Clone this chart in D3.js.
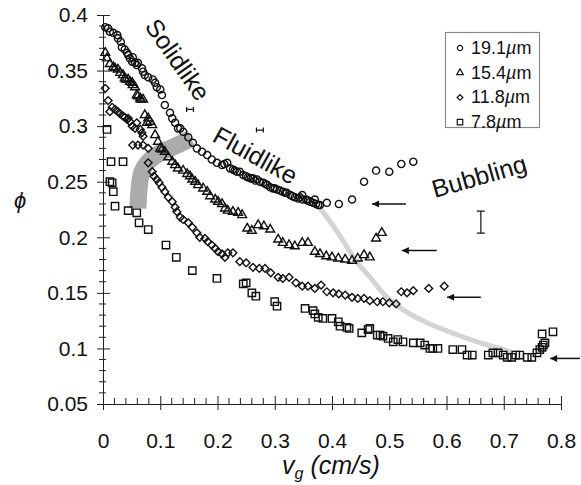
<!DOCTYPE html>
<html>
<head>
<meta charset="utf-8">
<script src="https://cdn.jsdelivr.net/npm/d3@7"></script>
<style>
  body { margin: 0; background: #fff; }
  svg { font-family: "Liberation Sans", Arial, sans-serif; }
</style>
</head>
<body>
<div id="chart"></div>
<script>
// legend labels (particle diameter)
var seriesNames = ["19.1", "15.4", "11.8", "7.8"];

// [vg (cm/s), phi]
var d191 = [[0.004,0.389],[0.009,0.388],[0.012,0.385],[0.018,0.384],[0.025,0.382],[0.026,0.379],[0.031,0.376],[0.033,0.371],
  [0.038,0.369],[0.042,0.366],[0.044,0.364],[0.047,0.361],[0.052,0.362],[0.051,0.358],[0.056,0.357],[0.061,0.357],[0.059,0.355],
  [0.068,0.352],[0.070,0.349],[0.073,0.346],[0.079,0.344],[0.087,0.342],[0.091,0.339],[0.094,0.335],[0.100,0.333],[0.103,0.328],
  [0.108,0.319],[0.117,0.312],[0.121,0.307],[0.126,0.303],[0.131,0.298],[0.135,0.298],[0.140,0.295],[0.149,0.290],[0.157,0.285],
  [0.164,0.280],[0.173,0.277],[0.182,0.274],[0.190,0.270],[0.199,0.267],[0.208,0.265],[0.212,0.266],[0.217,0.267],[0.222,0.262],
  [0.227,0.261],[0.230,0.260],[0.234,0.259],[0.239,0.259],[0.245,0.256],[0.250,0.255],[0.253,0.254],[0.258,0.253],[0.262,0.253],
  [0.266,0.251],[0.269,0.252],[0.274,0.250],[0.280,0.249],[0.284,0.248],[0.287,0.247],[0.292,0.245],[0.297,0.244],[0.300,0.244],
  [0.304,0.243],[0.309,0.242],[0.314,0.241],[0.318,0.240],[0.321,0.240],[0.327,0.238],[0.331,0.237],[0.335,0.236],[0.341,0.235],
  [0.344,0.236],[0.348,0.238],[0.349,0.234],[0.355,0.234],[0.358,0.233],[0.362,0.232],[0.367,0.231],[0.370,0.234],[0.372,0.230],
  [0.376,0.229],[0.379,0.229],
  [0.391,0.231],[0.412,0.230],[0.435,0.234],[0.456,0.250],[0.477,0.260],[0.500,0.259],[0.521,0.266],[0.542,0.268]];

var d154 = [[0.004,0.366],[0.007,0.361],[0.012,0.356],[0.018,0.353],[0.021,0.352],[0.026,0.351],[0.030,0.348],[0.035,0.346],
  [0.038,0.343],[0.040,0.342],[0.044,0.342],[0.047,0.340],[0.051,0.339],[0.052,0.337],[0.056,0.335],[0.059,0.328],[0.061,0.327],
  [0.065,0.325],[0.066,0.324],[0.070,0.324],[0.073,0.310],[0.079,0.307],[0.077,0.303],[0.082,0.304],[0.086,0.301],[0.091,0.292],
  [0.096,0.286],[0.100,0.280],[0.103,0.279],[0.108,0.277],[0.114,0.272],[0.121,0.268],[0.126,0.265],[0.131,0.262],[0.140,0.260],
  [0.147,0.257],[0.152,0.255],[0.156,0.252],[0.161,0.250],[0.166,0.247],[0.175,0.244],[0.182,0.241],[0.187,0.237],[0.196,0.234],
  [0.201,0.232],[0.208,0.230],[0.213,0.226],[0.218,0.224],[0.227,0.223],[0.236,0.222],[0.243,0.220],[0.252,0.208],[0.260,0.206],
  [0.271,0.211],[0.281,0.210],[0.292,0.207],[0.306,0.198],[0.314,0.195],[0.325,0.193],[0.335,0.192],[0.348,0.195],[0.358,0.195],
  [0.370,0.187],[0.379,0.185],[0.390,0.183],[0.400,0.182],[0.411,0.181],[0.423,0.180],[0.435,0.179],[0.445,0.181],[0.456,0.184],
  [0.466,0.182],[0.477,0.199],[0.487,0.204]];

var d118 = [[0.004,0.334],[0.009,0.323],[0.016,0.317],[0.012,0.313],[0.021,0.315],[0.026,0.313],[0.030,0.311],[0.035,0.309],
  [0.038,0.308],[0.044,0.307],[0.042,0.306],[0.047,0.304],[0.051,0.300],[0.056,0.298],[0.059,0.303],[0.065,0.297],[0.068,0.294],
  [0.070,0.291],[0.052,0.283],[0.061,0.283],[0.070,0.283],[0.079,0.280],[0.079,0.267],[0.086,0.259],[0.089,0.255],[0.094,0.252],
  [0.098,0.249],[0.103,0.245],[0.108,0.241],[0.114,0.236],[0.121,0.232],[0.126,0.227],[0.129,0.223],[0.135,0.218],[0.140,0.216],
  [0.149,0.213],[0.156,0.209],[0.164,0.204],[0.169,0.200],[0.178,0.199],[0.183,0.196],[0.190,0.193],[0.196,0.190],[0.201,0.187],
  [0.208,0.185],[0.213,0.182],[0.218,0.186],[0.227,0.186],[0.239,0.178],[0.250,0.177],[0.262,0.173],[0.273,0.172],[0.283,0.172],
  [0.293,0.168],[0.306,0.164],[0.314,0.163],[0.325,0.164],[0.337,0.159],[0.348,0.156],[0.358,0.156],[0.370,0.154],[0.381,0.157],
  [0.391,0.151],[0.402,0.150],[0.412,0.149],[0.423,0.148],[0.435,0.146],[0.445,0.145],[0.456,0.145],[0.466,0.143],[0.479,0.142],
  [0.489,0.142],[0.500,0.141],[0.512,0.140],
  [0.521,0.151],[0.531,0.150],[0.542,0.152],[0.569,0.154],[0.596,0.156]];

var d78 = [[0.007,0.297],[0.014,0.268],[0.035,0.268],[0.012,0.250],[0.016,0.249],[0.018,0.241],[0.021,0.228],[0.044,0.224],
  [0.059,0.222],[0.063,0.213],[0.079,0.207],[0.110,0.193],[0.128,0.182],[0.156,0.170],[0.199,0.163],[0.245,0.158],[0.250,0.159],
  [0.260,0.150],[0.267,0.147],[0.300,0.142],[0.304,0.138],[0.353,0.136],[0.367,0.134],[0.370,0.131],[0.376,0.128],[0.384,0.127],
  [0.400,0.127],[0.411,0.124],[0.414,0.120],[0.426,0.119],[0.430,0.118],[0.452,0.114],[0.463,0.117],[0.466,0.118],[0.479,0.112],
  [0.484,0.112],[0.489,0.111],[0.498,0.109],[0.507,0.106],[0.515,0.108],[0.524,0.106],[0.542,0.105],[0.554,0.105],[0.562,0.103],
  [0.571,0.100],[0.576,0.100],[0.585,0.100],[0.611,0.099],[0.627,0.099],[0.636,0.094],[0.645,0.094],[0.673,0.094],[0.681,0.096],
  [0.690,0.096],[0.699,0.094],[0.706,0.092],[0.714,0.092],[0.721,0.094],[0.728,0.094],[0.741,0.092],[0.749,0.092],[0.758,0.096],
  [0.763,0.099],[0.767,0.101],[0.769,0.103],[0.772,0.105],[0.767,0.113],[0.786,0.115]];

// regime boundaries
var solidFluid = [[0.061,0.226],[0.063,0.243],[0.068,0.259],[0.079,0.268],[0.100,0.276],[0.126,0.282],[0.154,0.289]];
var fluidBubble = [[0.376,0.228],[0.397,0.214],[0.418,0.198],[0.435,0.184],[0.449,0.174],[0.470,0.162],[0.487,0.151],
  [0.505,0.142],[0.536,0.131],[0.571,0.122],[0.615,0.113],[0.659,0.105],[0.693,0.100],[0.716,0.096]];

// bubbling onset arrows: [tail vg, head vg, phi]
var arrows = [[0.529,0.470,0.230],[0.583,0.522,0.188],[0.660,0.601,0.146],[0.833,0.781,0.091]];
// error bars: [vg, phi, half width in vg] and [vg, phi, half height in phi]
var errX = [[0.152,0.315,0.006],[0.274,0.2965,0.006]];
var errY = [[0.660,0.2137,0.0099]];

var xTicks = [0, 0.1, 0.2, 0.3, 0.4, 0.5, 0.6, 0.7, 0.8];
var xTickLabels = ["0", "0.1", "0.2", "0.3", "0.4", "0.5", "0.6", "0.7", "0.8"];
var yTicks = [0.05, 0.1, 0.15, 0.2, 0.25, 0.3, 0.35, 0.4];
var yTickLabels = ["0.05", "0.1", "0.15", "0.2", "0.25", "0.3", "0.35", "0.4"];

var width = 581, height = 485;
var x = d3.scaleLinear().domain([0, 0.8]).range([103, 561]);
var y = d3.scaleLinear().domain([0.05, 0.4]).range([404, 15]);

var svg = d3.select("#chart").append("svg")
    .attr("width", width)
    .attr("height", height);

// gray bands behind the data
var line = d3.line().x(d => x(d[0])).y(d => y(d[1])).curve(d3.curveCatmullRom);
svg.append("path").datum(solidFluid)
    .attr("d", line).attr("fill", "none").attr("stroke", "#ababab").attr("stroke-width", 17);
svg.append("path").datum(fluidBubble)
    .attr("d", line).attr("fill", "none").attr("stroke", "#d4d4d4").attr("stroke-width", 5);

// axes
var axisColor = "#222";
var xMinor = d3.range(0, 0.801, 0.02).filter(v => Math.abs(v * 10 - Math.round(v * 10)) > 1e-6);
var yMinor = d3.range(0.05, 0.401, 0.01).filter(v => Math.abs(v * 20 - Math.round(v * 20)) > 1e-6);

var gx = svg.append("g").attr("transform", "translate(0,404)")
    .call(d3.axisBottom(x).tickValues(xTicks).tickFormat((d, i) => xTickLabels[i]).tickSizeOuter(0));
gx.selectAll(".tick line").attr("y1", -8).attr("y2", 6).attr("stroke", axisColor);
gx.selectAll(".tick text").attr("y", 44).attr("dy", 0).style("font-size", "21px").attr("fill", "#111");
gx.select(".domain").attr("stroke", axisColor);
gx.append("g").selectAll("line").data(xMinor).enter().append("line")
    .attr("x1", d => x(d)).attr("x2", d => x(d)).attr("y1", -6).attr("y2", 0).attr("stroke", axisColor);

var gy = svg.append("g").attr("transform", "translate(103,0)")
    .call(d3.axisLeft(y).tickValues(yTicks).tickFormat((d, i) => yTickLabels[i]).tickSizeOuter(0));
gy.selectAll(".tick line").attr("x1", 7).attr("x2", -6).attr("stroke", axisColor);
gy.selectAll(".tick text").attr("x", -15).style("font-size", "21px").attr("fill", "#111");
gy.select(".domain").attr("stroke", axisColor);
gy.append("g").selectAll("line").data(yMinor).enter().append("line")
    .attr("y1", d => y(d)).attr("y2", d => y(d)).attr("x1", -4).attr("x2", 3).attr("stroke", axisColor);
svg.selectAll(".domain, .tick line").attr("stroke-width", 1);

// markers
var markers = [
  {data: d191, type: d3.symbolCircle, size: 40, rot: 0},
  {data: d154, type: d3.symbolTriangle, size: 34, rot: 0},
  {data: d118, type: d3.symbolSquare, size: 30, rot: 45},
  {data: d78, type: d3.symbolSquare, size: 54, rot: 0}
];
markers.forEach(function(m) {
  svg.append("g").selectAll("path")
    .data(m.data)
    .enter()
    .append("path")
      .attr("d", d3.symbol().type(m.type).size(m.size))
      .attr("transform", d => "translate(" + x(d[0]) + "," + y(d[1]) + ") rotate(" + m.rot + ")")
      .attr("fill", "none")
      .attr("stroke", "#111")
      .attr("stroke-width", 1.4);
});

// arrows, head pointing to lower vg
svg.append("defs").append("marker")
    .attr("id", "head").attr("viewBox", "0 0 10 10").attr("refX", 10).attr("refY", 5)
    .attr("markerWidth", 10).attr("markerHeight", 7).attr("markerUnits", "userSpaceOnUse").attr("orient", "auto")
  .append("path").attr("d", "M0,0 L10,5 L0,10 Z").attr("fill", "#111");
svg.append("g").selectAll("line").data(arrows).enter().append("line")
    .attr("x1", d => x(d[0])).attr("x2", d => x(d[1]))
    .attr("y1", d => y(d[2])).attr("y2", d => y(d[2]))
    .attr("stroke", "#111").attr("stroke-width", 1.5)
    .attr("marker-end", "url(#head)");

// error bars
var eb = svg.append("g").attr("stroke", "#111").attr("stroke-width", 1.2).attr("fill", "none");
errX.forEach(function(e) {
  var cy = y(e[1]), x0 = x(e[0] - e[2]), x1 = x(e[0] + e[2]);
  eb.append("path").attr("d", "M" + x0 + "," + (cy - 2.5) + "V" + (cy + 2.5) + "M" + x1 + "," + (cy - 2.5) + "V" + (cy + 2.5) +
    "M" + x0 + "," + cy + "H" + x1);
});
errY.forEach(function(e) {
  var cx = x(e[0]), y0 = y(e[1] - e[2]), y1 = y(e[1] + e[2]);
  eb.append("path").attr("d", "M" + (cx - 4) + "," + y0 + "H" + (cx + 4) + "M" + (cx - 4) + "," + y1 + "H" + (cx + 4) +
    "M" + cx + "," + y0 + "V" + y1);
});

// regime labels
var regimes = [["Solidlike", 0.131, 0.3600, 55], ["Fluidlike", 0.2665, 0.274, 29], ["Bubbling", 0.657, 0.2551, -16]];
svg.append("g").selectAll("text").data(regimes).enter().append("text")
    .attr("transform", d => "translate(" + x(d[1]) + "," + y(d[2]) + ") rotate(" + d[3] + ")")
    .attr("text-anchor", "middle")
    .attr("dominant-baseline", "central")
    .style("font-size", "25px")
    .attr("fill", "#111")
    .text(d => d[0]);

// axis titles
var xt = svg.append("text").attr("x", 331).attr("y", 474).attr("text-anchor", "middle")
    .style("font-size", "25px").style("font-style", "italic").attr("fill", "#111");
xt.append("tspan").text("v");
xt.append("tspan").attr("dy", 5).style("font-size", "16px").text("g");
xt.append("tspan").attr("dy", -5).text(" (cm/s)");

svg.append("text").attr("x", 20).attr("y", 200).attr("text-anchor", "middle").attr("dominant-baseline", "central")
    .style("font-size", "22px").style("font-style", "italic").attr("fill", "#111").text("\u03d5");

// legend
var lg = svg.append("g");
lg.append("rect").attr("x", 445.5).attr("y", 32.5).attr("width", 94).attr("height", 95)
    .attr("fill", "#fff").attr("stroke", "#888").attr("stroke-width", 1.2);
var legendRows = lg.selectAll("g.row").data(markers).enter().append("g")
    .attr("class", "row")
    .attr("transform", (d, i) => "translate(0," + (48 + i * 24.7) + ")");
legendRows.append("path")
    .attr("d", d => d3.symbol().type(d.type).size(d.size * 0.55)())
    .attr("transform", d => "translate(460,0) rotate(" + d.rot + ")")
    .attr("fill", "none").attr("stroke", "#111").attr("stroke-width", 1.2);
var lt = legendRows.append("text")
    .attr("x", 471).attr("dominant-baseline", "central")
    .style("font-size", "18px").attr("fill", "#111");
lt.append("tspan").text((d, i) => seriesNames[i]);
lt.append("tspan").style("font-style", "italic").text("\u00b5");
lt.append("tspan").text("m");
</script>
</body>
</html>
